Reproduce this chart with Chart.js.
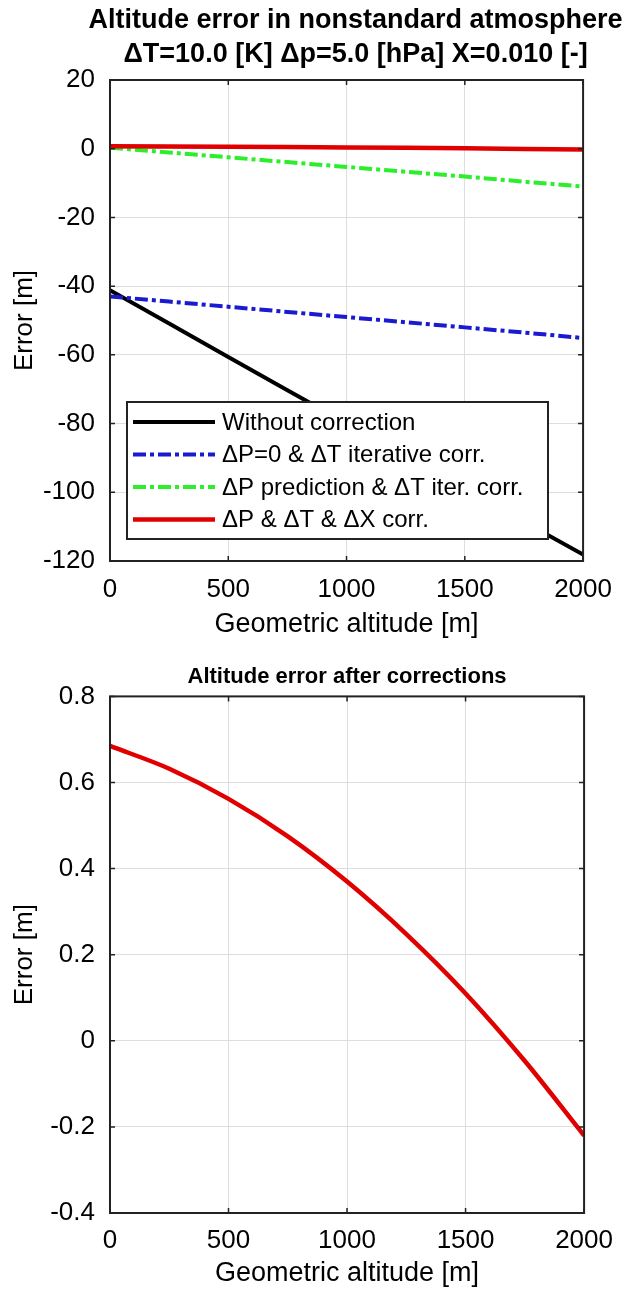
<!DOCTYPE html>
<html>
<head>
<meta charset="utf-8">
<script src="https://cdn.jsdelivr.net/npm/chart.js@4"></script>
<style>
html,body{margin:0;padding:0;background:#fff;}
canvas{display:block;}
</style>
</head>
<body>
<canvas id="c1" width="625" height="650"></canvas>
<canvas id="c2" width="625" height="640"></canvas>
<script>
// ---- data ----
const altitude = [0, 250, 500, 750, 1000, 1250, 1500, 1750, 2000];
const withoutCorrection = [-41.2, -50.9, -60.6, -70.3, -79.9, -89.5, -99.1, -108.6, -118.1];
const dp0IterCorr = [-43.0, -44.5, -46.0, -47.5, -49.0, -50.5, -52.0, -53.5, -55.1];
const dpPredIterCorr = [0.3, -1.1, -2.5, -3.9, -5.3, -6.7, -8.1, -9.6, -11.0];
const fullCorr = [0.685, 0.632, 0.562, 0.475, 0.370, 0.248, 0.110, -0.047, -0.220];
const seriesLabels = ['Without correction', '\u0394P=0 & \u0394T iterative corr.', '\u0394P prediction & \u0394T iter. corr.', '\u0394P & \u0394T & \u0394X corr.'];
const xTicks = [0, 500, 1000, 1500, 2000];
const yTicksTop = [-120, -100, -80, -60, -40, -20, 0, 20];
const yTicksBottom = [-0.4, -0.2, 0, 0.2, 0.4, 0.6, 0.8];
const titleTop = ['Altitude error in nonstandard atmosphere', '\u0394T=10.0 [K] \u0394p=5.0 [hPa] X=0.010 [-]'];
const titleBottom = 'Altitude error after corrections';
const xTitle = 'Geometric altitude [m]';
const yTitle = 'Error [m]';

const FONT = "'Liberation Sans', Arial, sans-serif";
const pts = (ys) => altitude.map((x, i) => ({x: x, y: ys[i]}));

const frameAndTicks = {
  id: 'frameAndTicks',
  afterDatasetsDraw(chart) {
    const {ctx, chartArea: a, scales} = chart;
    ctx.save();
    ctx.strokeStyle = '#222';
    ctx.lineWidth = 1.5;
    const tl = 5;
    ctx.beginPath();
    scales.x.ticks.forEach(t => {
      const px = scales.x.getPixelForValue(t.value);
      ctx.moveTo(px, a.bottom); ctx.lineTo(px, a.bottom - tl);
      ctx.moveTo(px, a.top); ctx.lineTo(px, a.top + tl);
    });
    scales.y.ticks.forEach(t => {
      const py = scales.y.getPixelForValue(t.value);
      ctx.moveTo(a.left, py); ctx.lineTo(a.left + tl, py);
      ctx.moveTo(a.right, py); ctx.lineTo(a.right - tl, py);
    });
    ctx.stroke();
    ctx.lineWidth = 2;
    ctx.strokeRect(a.left, a.top, a.right - a.left, a.bottom - a.top);
    ctx.restore();
  }
};

// multi-line title near the plot-area centre, allowed to overhang it
const wideTitle = {
  id: 'wideTitle',
  afterDraw(chart, args, opts) {
    if (!opts || !opts.lines) return;
    const {ctx, chartArea: a} = chart;
    ctx.save();
    ctx.font = 'bold ' + opts.size + 'px ' + FONT;
    ctx.fillStyle = '#000';
    ctx.textAlign = 'center';
    ctx.textBaseline = 'middle';
    const cx = (a.left + a.right) / 2 + (opts.shift || 0);
    opts.lines.forEach((t, i) => ctx.fillText(t, cx, opts.firstY + i * opts.gap));
    ctx.restore();
  }
};

const boxLegend = {
  id: 'boxLegend',
  afterDatasetsDraw(chart, args, opts) {
    if (!opts || !opts.show) return;
    const {ctx} = chart;
    const ds = chart.data.datasets;
    ctx.save();
    const L = opts.left, T = opts.top, W = opts.width, H = opts.height;
    ctx.fillStyle = '#fff';
    ctx.fillRect(L, T, W, H);
    ctx.strokeStyle = '#222';
    ctx.lineWidth = 2;
    ctx.strokeRect(L, T, W, H);
    ctx.font = '24px ' + FONT;
    ctx.textBaseline = 'middle';
    ctx.textAlign = 'left';
    opts.order.forEach((di, row) => {
      const d = ds[di];
      const y = T + opts.firstRow + row * opts.rowGap;
      ctx.beginPath();
      ctx.strokeStyle = d.borderColor;
      ctx.lineWidth = d.borderWidth;
      ctx.setLineDash(d.borderDash || []);
      ctx.moveTo(L + 6, y);
      ctx.lineTo(L + 88, y);
      ctx.stroke();
      ctx.setLineDash([]);
      ctx.fillStyle = '#000';
      ctx.fillText(d.label, L + 95, y + 1);
    });
    ctx.restore();
  }
};

function baseScales(yMin, yMax, xTickPad, xTitlePad, xHeight, decimals) {
  return {
    x: {
      type: 'linear', min: 0, max: 2000,
      afterBuildTicks: s => { s.ticks = xTicks.map(v => ({value: v})); },
      afterFit: s => { s.height = xHeight; },
      ticks: {color: '#000', font: {family: FONT, size: 26}, padding: xTickPad, maxRotation: 0,
        callback: v => String(v)},
      grid: {color: '#dedede', lineWidth: 1, drawTicks: false},
      border: {display: false},
      title: {display: true, text: xTitle, color: '#000', font: {family: FONT, size: 27}, padding: {top: 0, bottom: xTitlePad}}
    },
    y: {
      type: 'linear', min: yMin, max: yMax,
      afterBuildTicks: s => { s.ticks = (decimals ? yTicksBottom : yTicksTop).map(v => ({value: v})); },
      afterFit: s => { s.width = 110; },
      ticks: {color: '#000', font: {family: FONT, size: 26}, padding: 15,
        callback: v => decimals ? String(Number(v.toFixed(1))) : String(v)},
      grid: {color: '#dedede', lineWidth: 1, drawTicks: false},
      border: {display: false},
      title: {display: true, text: yTitle, color: '#000', font: {family: FONT, size: 26}, padding: {top: 9, bottom: 0}}
    }
  };
}

new Chart(document.getElementById('c1'), {
  type: 'line',
  data: {
    datasets: [
      {label: seriesLabels[0], data: pts(withoutCorrection), borderColor: '#000000', borderWidth: 4, order: 3},
      {label: seriesLabels[1], data: pts(dp0IterCorr), borderColor: '#1a1ad0', borderWidth: 4, borderDash: [13, 4, 4, 4], order: 2},
      {label: seriesLabels[2], data: pts(dpPredIterCorr), borderColor: '#2cee2c', borderWidth: 4, borderDash: [13, 4, 4, 4], order: 1},
      {label: seriesLabels[3], data: pts(fullCorr), borderColor: '#e00000', borderWidth: 4.5, order: 0}
    ]
  },
  options: {
    responsive: false, animation: false, devicePixelRatio: 1,
    layout: {padding: {left: 0, right: 40, top: 80, bottom: 0}},
    elements: {point: {radius: 0}, line: {tension: 0, borderCapStyle: 'butt'}},
    scales: baseScales(-120, 20, 13, 9, 89, false),
    plugins: {
      legend: {display: false},
      tooltip: {enabled: false},
      title: {display: false},
      wideTitle: {lines: titleTop, size: 27, firstY: 21, gap: 34, shift: 9},
      boxLegend: {show: true, left: 127, top: 402, width: 421, height: 137, firstRow: 20, rowGap: 32.5, order: [0, 1, 2, 3]}
    }
  },
  plugins: [frameAndTicks, boxLegend, wideTitle]
});

new Chart(document.getElementById('c2'), {
  type: 'line',
  data: {
    datasets: [
      {label: seriesLabels[3], data: pts(fullCorr), borderColor: '#e00000', borderWidth: 4.5, cubicInterpolationMode: 'monotone'}
    ]
  },
  options: {
    responsive: false, animation: false, devicePixelRatio: 1,
    layout: {padding: {left: 0, right: 40, top: 0, bottom: 0}},
    elements: {point: {radius: 0}},
    scales: baseScales(-0.4, 0.8, 12, 0, 77, true),
    plugins: {
      legend: {display: false},
      tooltip: {enabled: false},
      title: {display: true, fullSize: false, text: titleBottom, color: '#000', font: {family: FONT, size: 22, weight: 'bold', lineHeight: 1.2}, padding: {top: 14, bottom: 6}},
      boxLegend: {show: false}
    }
  },
  plugins: [frameAndTicks, boxLegend]
});
</script>
</body>
</html>
